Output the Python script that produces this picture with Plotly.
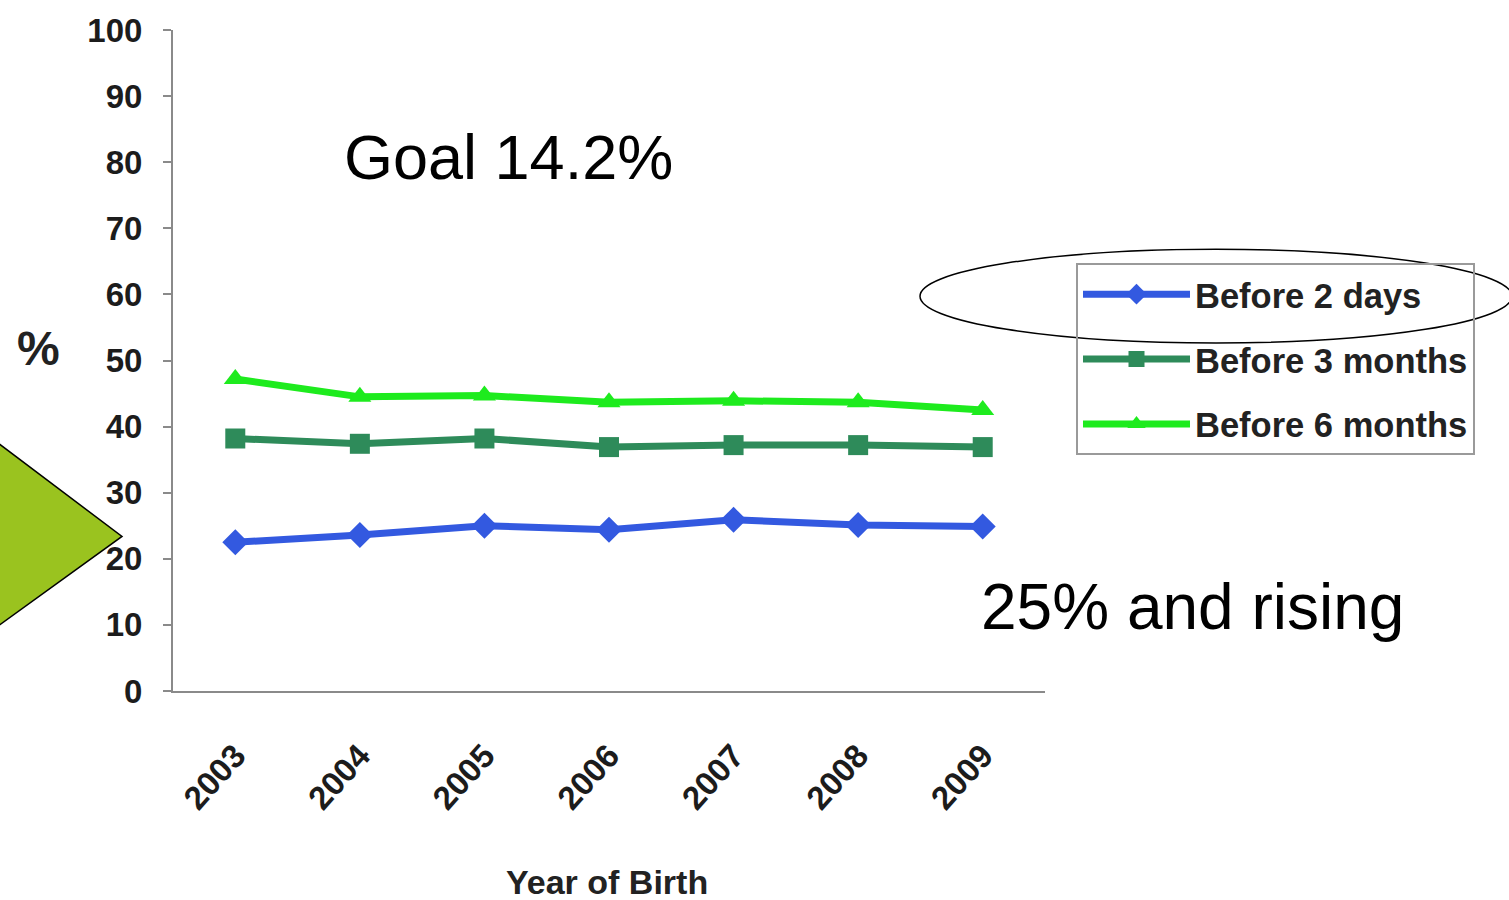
import plotly.graph_objects as go

# Birth-year categories and share of infants (%) by feeding milestone
years = ["2003", "2004", "2005", "2006", "2007", "2008", "2009"]
before_2_days = [22.5, 23.6, 25.0, 24.4, 25.9, 25.1, 24.9]
before_3_months = [38.2, 37.4, 38.2, 36.9, 37.2, 37.2, 36.9]
before_6_months = [47.2, 44.5, 44.7, 43.7, 43.9, 43.7, 42.5]
y_ticks = [0, 10, 20, 30, 40, 50, 60, 70, 80, 90, 100]

series_names = ["Before 2 days", "Before 3 months", "Before 6 months"]
series_values = [before_2_days, before_3_months, before_6_months]
series_colors = ["#3359E0", "#2E8B5A", "#1EEB1E"]
series_symbols = ["diamond", "square", "triangle-up"]

W, H = 1509, 900
L, R, T, B = 173, 464, 28, 209
PW, PH = W - L - R, H - T - B


def px(x, y):
    """Pixel position on the page -> paper coordinates."""
    return (x - L) / PW, (H - B - y) / PH


fig = go.Figure()
for i, (name, vals, col, sym) in enumerate(zip(series_names, series_values,
                                                series_colors, series_symbols)):
    fig.add_trace(go.Scatter(
        x=years, y=vals, name=name, mode="lines+markers",
        legendgroup=f"g{i}",
        line=dict(color=col, width=7),
        marker=dict(symbol=sym, size=20, color=col),
    ))

font_family = "Liberation Sans, Arial, sans-serif"
tick_font = dict(family=font_family, size=33, color="#1c1c1c", weight="bold")

fig.update_layout(
    width=W, height=H,
    margin=dict(l=L, r=R, t=T, b=B, pad=0),
    paper_bgcolor="white", plot_bgcolor="white",
    font=dict(family=font_family),
    showlegend=True,
    legend=dict(
        x=px(1076, 0)[0], y=px(0, 262)[1], xanchor="left", yanchor="top",
        bgcolor="rgba(255,255,255,0)", bordercolor="#9a9a9a", borderwidth=2,
        font=dict(family=font_family, size=34.5, color="#222222", weight="bold"),
        tracegroupgap=17, itemwidth=107,
    ),
    xaxis=dict(
        type="category", range=[-0.5, 6.5],
        showline=True, linecolor="#8a8a8a", linewidth=2,
        showgrid=False, zeroline=False, ticks="",
        tickangle=-48, tickfont=tick_font, ticklabelstandoff=30,
    ),
    yaxis=dict(
        range=[0, 100], tickvals=y_ticks,
        showline=True, linecolor="#8a8a8a", linewidth=2,
        showgrid=False, zeroline=False,
        ticks="outside", ticklen=8, tickcolor="#8a8a8a", tickwidth=2,
        ticklabelstandoff=14, tickfont=tick_font,
    ),
)

# Text labels
annots = [
    dict(text="%", pos=(38, 347), size=48, weight="bold", color="#222222"),
    dict(text="Year of Birth", pos=(607, 883), size=34, weight="bold", color="#222222"),
    dict(text="Goal 14.2%", pos=(508, 155), size=63, weight="normal", color="black"),
    dict(text="25% and rising", pos=(1192, 607), size=64, weight="normal", color="black"),
]
for a in annots:
    ax, ay = px(*a["pos"])
    fig.add_annotation(
        x=ax, y=ay, xref="paper", yref="paper", text=a["text"], showarrow=False,
        xanchor="center", yanchor="middle",
        font=dict(family=font_family, size=a["size"], color=a["color"], weight=a["weight"]),
    )

# Bullet arrow on the left edge
p1, p2, p3 = px(-5, 440), px(122, 536), px(-5, 628)
fig.add_shape(
    type="path", xref="paper", yref="paper", layer="above",
    path=f"M {p1[0]},{p1[1]} L {p2[0]},{p2[1]} L {p3[0]},{p3[1]} Z",
    fillcolor="#9AC31F", line=dict(color="black", width=1.5),
)

# Ellipse highlighting the first legend entry
e0, e1 = px(920, 342), px(1512, 248)
fig.add_shape(
    type="circle", xref="paper", yref="paper", layer="above",
    x0=e0[0], y0=e0[1], x1=e1[0], y1=e1[1],
    line=dict(color="black", width=1.5),
)

fig.write_html("out.html")
